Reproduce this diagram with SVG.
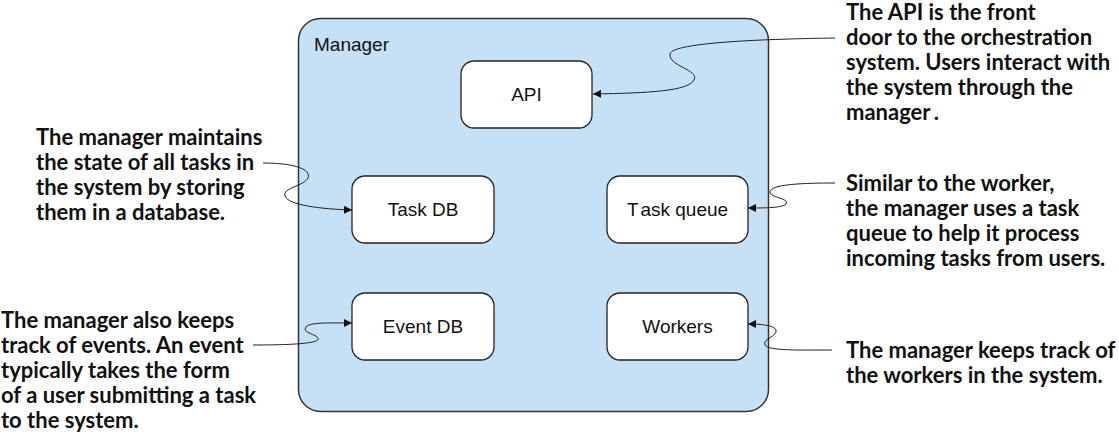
<svg xmlns="http://www.w3.org/2000/svg" width="1119" height="439" viewBox="0 0 1119 439">
<defs>
<marker id="arr" viewBox="0 0 10 10" refX="10" refY="5" markerWidth="8" markerHeight="8" markerUnits="userSpaceOnUse" orient="auto">
<path d="M0,0 L10,5 L0,10 z" fill="#111"/>
</marker>
<style>
.mgr{fill:#c6e1f5;stroke:#333;stroke-width:1.5}
.node rect{fill:#fff;stroke:#222;stroke-width:1.3}
.lbl{font-family:"Liberation Sans",Arial,sans-serif;font-size:19px;fill:#111}
.note{font-family:Lato,"Open Sans",sans-serif;font-weight:bold;font-size:22px;fill:#111}
.conn path{fill:none;stroke:#222;stroke-width:1;marker-end:url(#arr)}
</style>
</defs>
<rect width="1119" height="439" fill="#fff"/>
<g id="manager">
<rect class="mgr" x="298.5" y="18.5" width="470" height="393" rx="22"/>
<text class="lbl" x="314" y="51">Manager</text>
</g>
<g id="api" class="node">
<rect x="461" y="61" width="131" height="67" rx="13"/>
<text class="lbl" x="526.5" y="101" text-anchor="middle">API</text>
</g>
<g id="taskdb" class="node">
<rect x="352" y="176" width="142" height="67" rx="13"/>
<text class="lbl" x="423" y="216" text-anchor="middle">Task DB</text>
</g>
<g id="taskqueue" class="node">
<rect x="607" y="176" width="141" height="67" rx="13"/>
<text class="lbl" x="677.5" y="216" text-anchor="middle">T<tspan dx="4">ask queue</tspan></text>
</g>
<g id="eventdb" class="node">
<rect x="352" y="293" width="142" height="67" rx="13"/>
<text class="lbl" x="423" y="333" text-anchor="middle">Event DB</text>
</g>
<g id="workers" class="node">
<rect x="607" y="293" width="141" height="67" rx="13"/>
<text class="lbl" x="677.5" y="333" text-anchor="middle">Workers</text>
</g>
<g id="connectors" class="conn">
<path d="M835,38 C770,39 672,42 670,54 C668,66 700,70 694,80 C688,91 650,93 593,94"/>
<path d="M263,163 C290,163 312,168 308,178 C304,186 282,188 285,196 C288,205 320,209 352,210"/>
<path d="M253,345 C285,345 322,344 318,338 C314,333 302,333 306,327 C310,322 330,323 352,323"/>
<path d="M835,183 C805,183 770,184 770,192 C770,198 790,198 786,204 C782,208 765,208 748,208"/>
<path d="M832,350 C800,350 768,351 765,345 C762,339 778,336 776,330 C774,325 760,324 748,324"/>
</g>
<g id="note-api" class="note">
<text x="846" y="20">The API is the front</text>
<text x="846" y="45">door to the orchestration</text>
<text x="846" y="70">system. Users interact with</text>
<text x="846" y="95">the system through the</text>
<text x="846" y="120">manager<tspan dx="4">.</tspan></text>
</g>
<g id="note-taskdb" class="note">
<text x="36" y="145">The manager maintains</text>
<text x="36" y="170">the state of all tasks in</text>
<text x="36" y="195">the system by storing</text>
<text x="36" y="220">them in a database.</text>
</g>
<g id="note-eventdb" class="note">
<text x="1" y="328">The manager also keeps</text>
<text x="1" y="353">track of events. An event</text>
<text x="1" y="378">typically takes the form</text>
<text x="1" y="403">of a user submitting a task</text>
<text x="1" y="428">to the system.</text>
</g>
<g id="note-taskqueue" class="note">
<text x="846" y="191">Similar to the worker,</text>
<text x="846" y="216">the manager uses a task</text>
<text x="846" y="241">queue to help it process</text>
<text x="846" y="266">incoming tasks from users.</text>
</g>
<g id="note-workers" class="note">
<text x="846" y="358">The manager keeps track of</text>
<text x="846" y="383">the workers in the system.</text>
</g>
</svg>
